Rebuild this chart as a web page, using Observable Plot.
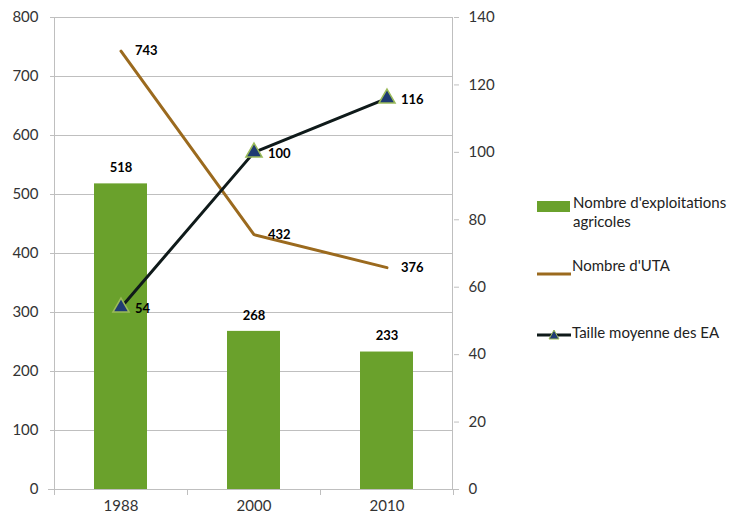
<!DOCTYPE html>
<html><head><meta charset="utf-8">
<script src="https://cdn.jsdelivr.net/npm/d3@7"></script>
<script src="https://cdn.jsdelivr.net/npm/@observablehq/plot@0.6"></script>
<style>
body{margin:0;background:#fff;font-family:Lato,"Open Sans",sans-serif;}
#wrap{position:relative;width:750px;height:518px;overflow:hidden;}
.lg{position:absolute;font-size:15px;color:#222;line-height:19px;white-space:nowrap;}
.sw{position:absolute;}
</style></head><body><div id="wrap"></div>
<script>
const years = ["1988", "2000", "2010"];
const exploitations = [518, 268, 233];
const uta = [743, 432, 376];
const taille = [54, 100, 116];
const leftTicks = [0, 100, 200, 300, 400, 500, 600, 700, 800];
const rightTicks = [0, 20, 40, 60, 80, 100, 120, 140];
const seriesNames = ["Nombre d'exploitations agricoles", "Nombre d'UTA", "Taille moyenne des EA"];
const colors = {bar: "#6aa12c", uta: "#9b6a1e", taille: "#0f1a1a", tri: "#1f3b73", triStroke: "#9bbb59", grid: "#bfbfbf", text: "#333"};

const right = d3.scaleLinear([0, 140], [0, 800]);
const data = years.map((y, i) => ({year: y, e: exploitations[i], u: uta[i], t: taille[i], tl: right(taille[i])}));

function frameLines(index, scales, values, dims) {
  const g = d3.create("svg:g").attr("stroke", colors.grid).attr("stroke-width", 1);
  const x0 = dims.marginLeft, x1 = dims.width - dims.marginRight;
  const y0 = dims.marginTop, y1 = dims.height - dims.marginBottom;
  g.append("line").attr("x1", x0 + 0.5).attr("x2", x0 + 0.5).attr("y1", y0).attr("y2", y1);
  g.append("line").attr("x1", x1 - 0.5).attr("x2", x1 - 0.5).attr("y1", y0).attr("y2", y1);
  g.append("line").attr("x1", x0 - 6).attr("x2", x1 + 3).attr("y1", y1 + 0.5).attr("y2", y1 + 0.5);
  const step = scales.x(years[1]) - scales.x(years[0]);
  const edges = years.map(y => scales.x(y)).concat([scales.x(years[years.length - 1]) + step]);
  for (const e of edges) {
    const xx = Math.round(e) + 0.5;
    g.append("line").attr("x1", xx).attr("x2", xx).attr("y1", y1).attr("y2", y1 + 6);
  }
  return g.node();
}

const lbl = {fontWeight: "bold", fontSize: 13, fill: "#000", fontFamily: "Lato, sans-serif"};

const chart = Plot.plot({
  width: 500, height: 518,
  marginLeft: 54, marginRight: 47, marginTop: 17, marginBottom: 29,
  style: {fontFamily: "Lato, 'Open Sans', sans-serif", fontSize: "15px", background: "transparent", overflow: "visible"},
  x: {type: "band", domain: years, padding: 0, label: null},
  y: {domain: [0, 800], label: null},
  marks: [
    Plot.gridY(leftTicks, {stroke: colors.grid, strokeOpacity: 1}),
    Plot.axisY(leftTicks, {tickSize: 4, tickPadding: 12, stroke: colors.grid, fill: colors.text, label: null, fontSize: 15}),
    Plot.axisY(rightTicks.map(right), {anchor: "right", tickSize: 5, tickPadding: 10, stroke: colors.grid, fill: colors.text, label: null, fontSize: 15, tickFormat: d => String(Math.round(right.invert(d)))}),
    Plot.axisX({tickSize: 0, tickPadding: 11, fill: colors.text, label: null, fontSize: 15}),
    Plot.barY(data, {x: "year", y: "e", fill: colors.bar, insetLeft: 40, insetRight: 40}),
    frameLines,
    Plot.text(data, {x: "year", y: "e", text: d => String(d.e), dy: -16, ...lbl}),
    Plot.line(data, {x: "year", y: "u", stroke: colors.uta, strokeWidth: 3}),
    Plot.text(data, {x: "year", y: "u", text: d => String(d.u), dx: 14, textAnchor: "start", ...lbl}),
    Plot.line(data, {x: "year", y: "tl", stroke: colors.taille, strokeWidth: 3}),
    Plot.dot(data, {x: "year", y: "tl", symbol: "triangle", r: 6, fill: colors.tri, stroke: colors.triStroke, strokeWidth: 1.5}),
    Plot.text(data, {x: "year", y: "tl", text: d => String(d.t), dx: 14, dy: 1, textAnchor: "start", ...lbl})
  ]
});
chart.style.position = "absolute";
chart.style.left = "0px";
chart.style.top = "0px";
const wrap = document.getElementById("wrap");
wrap.appendChild(chart);

// Legend
function addText(txt, left, top) {
  const d = document.createElement("div");
  d.className = "lg"; d.style.left = left + "px"; d.style.top = top + "px";
  d.innerHTML = txt; wrap.appendChild(d);
}
function addSwatch(html, left, top, w, h) {
  const d = document.createElement("div");
  d.className = "sw"; d.style.left = left + "px"; d.style.top = top + "px";
  d.innerHTML = `<svg width="${w}" height="${h}">${html}</svg>`;
  wrap.appendChild(d);
}
addSwatch(`<rect x="0" y="0" width="33" height="11" fill="${colors.bar}"/>`, 537, 197, 34, 12);
addText("Nombre d'exploitations<br>agricoles", 573, 193);
addSwatch(`<line x1="0" x2="34" y1="4" y2="4" stroke="${colors.uta}" stroke-width="3"/>`, 537, 262, 34, 8);
addText(seriesNames[1], 572, 256);
addSwatch(`<line x1="0" x2="34" y1="8" y2="8" stroke="${colors.taille}" stroke-width="3"/><path d="M17,3 L22,12 L12,12 Z" fill="${colors.tri}" stroke="${colors.triStroke}" stroke-width="1"/>`, 537, 325, 34, 14);
addText(seriesNames[2], 572, 323);
</script>
</body></html>
